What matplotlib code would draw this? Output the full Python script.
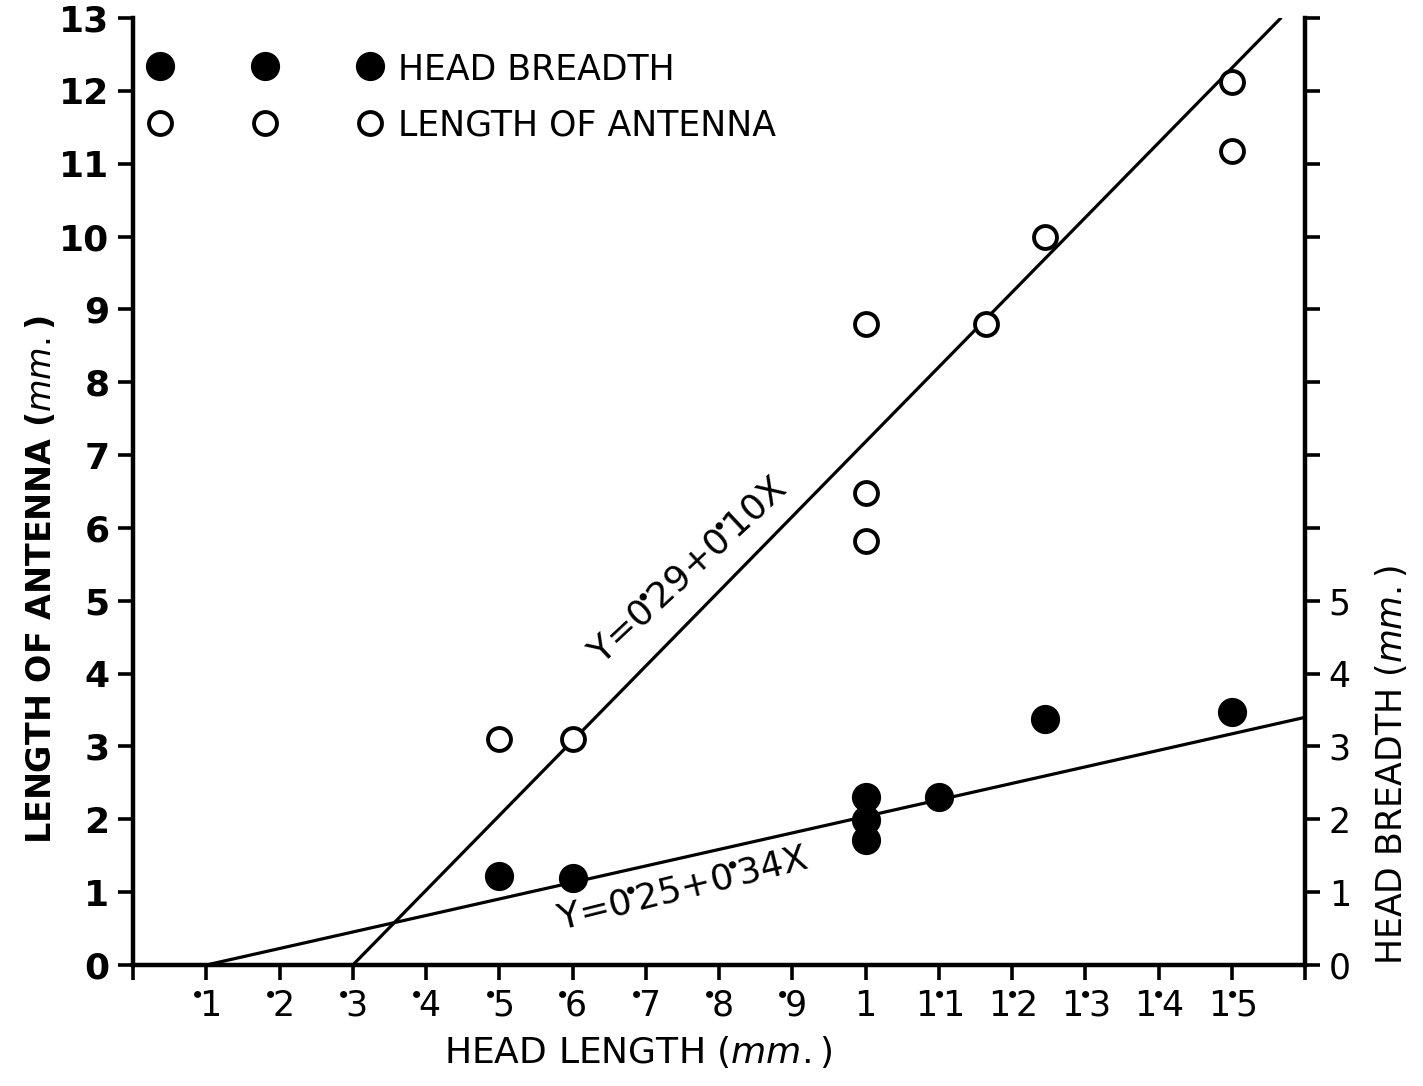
import numpy as np
import matplotlib
matplotlib.use('Agg')
import matplotlib.pyplot as plt

# Head length (mm) vs antenna length / head breadth (mm)
antenna_x = [0.5, 0.6, 1.0, 1.0, 1.0, 1.165, 1.245, 1.5, 1.5]
antenna_y = [3.1, 3.1, 8.8, 6.48, 5.82, 8.8, 10.0, 12.12, 11.17]

breadth_x = [0.5, 0.6, 1.0, 1.0, 1.0, 1.1, 1.245, 1.5]
breadth_y = [1.22, 1.19, 2.3, 1.99, 1.72, 2.3, 3.38, 3.48]

# fitted lines as drawn on the graph (end points)
antenna_fit_x = [0.3, 1.567]
antenna_fit_y = [0.0, 13.0]
breadth_fit_x = [0.1, 1.6]
breadth_fit_y = [0.0, 3.4]

D = r'$\!^{\bullet}\!$'  # raised decimal point
x_ticks = [round(0.1 * i, 1) for i in range(17)]
x_labels = [''] + [D + str(i) for i in range(1, 10)] + ['1'] + \
           ['1' + D + str(i) for i in range(1, 6)] + ['']
left_ticks = list(range(14))
right_labels = ['0', '1', '2', '3', '4', '5'] + [''] * 8

plt.rcParams['font.family'] = ['DejaVu Sans']
plt.rcParams['mathtext.default'] = 'regular'

fig = plt.figure(figsize=(14.23, 10.86), dpi=100)
ax = fig.add_axes([0.0935, 0.1114, 0.8236, 0.872])

ax.plot(antenna_fit_x, antenna_fit_y, color='black', lw=2.3, solid_capstyle='round')
ax.plot(breadth_fit_x, breadth_fit_y, color='black', lw=2.3, solid_capstyle='round')

ax.plot(antenna_x, antenna_y, 'o', ms=16.5, mfc='white', mec='black', mew=2.8, zorder=3)
ax.plot(breadth_x, breadth_y, 'o', ms=20, mfc='black', mec='black', zorder=3)

ax.set_xlim(0, 1.6)
ax.set_ylim(0, 13)

for s in ['top', 'right']:
    ax.spines[s].set_visible(False)
for s in ['left', 'bottom']:
    ax.spines[s].set_linewidth(3.2)

ax.set_xticks(x_ticks)
ax.set_xticklabels(x_labels, fontsize=25)
ax.set_yticks(left_ticks)
ax.set_yticklabels([str(v) for v in left_ticks], fontsize=26, fontweight='bold')
ax.tick_params(axis='both', direction='out', length=11, width=2.6, pad=6)

# right axis, same scale, only 0-5 labelled
ax2 = ax.twinx()
ax2.set_ylim(0, 13)
ax2.set_yticks(left_ticks)
ax2.set_yticklabels(right_labels, fontsize=25)
ax2.tick_params(axis='y', direction='out', length=11, width=2.6, pad=6)
for s in ['top', 'left', 'bottom']:
    ax2.spines[s].set_visible(False)
ax2.spines['right'].set_linewidth(3.2)

ax.set_xlabel(r'HEAD LENGTH $(\mathit{mm.})$', fontsize=26)
ax.xaxis.set_label_coords(0.431, -0.073)
ax.set_ylabel(r'LENGTH OF ANTENNA $(\mathit{mm.})$', fontsize=24, fontweight='bold')
ax.yaxis.set_label_coords(-0.064, 0.407)
ax2.set_ylabel(r'HEAD BREADTH $(\mathit{mm.})$', fontsize=25)
ax2.yaxis.set_label_coords(1.058, 0.211)

# equations along the lines
ax.text(0.758, 5.42, 'Y=0' + D + '29+0' + D + '10X', fontsize=26,
        rotation=43, ha='center', va='center', rotation_mode='anchor')
ax.text(0.75, 1.05, 'Y=0' + D + '25+0' + D + '34X', fontsize=26,
        rotation=14, ha='center', va='center', rotation_mode='anchor')

# hand-drawn key in top left corner
key_x = [0.023, 0.113, 0.202]
for kx in key_x:
    ax.plot(kx, 0.949, 'o', ms=20, mfc='black', mec='black',
            transform=ax.transAxes, clip_on=False)
    ax.plot(kx, 0.889, 'o', ms=16.5, mfc='white', mec='black', mew=2.8,
            transform=ax.transAxes, clip_on=False)
ax.text(0.226, 0.945, 'HEAD BREADTH', fontsize=25, transform=ax.transAxes,
        ha='left', va='center')
ax.text(0.226, 0.886, 'LENGTH OF ANTENNA', fontsize=25, transform=ax.transAxes,
        ha='left', va='center')

fig.savefig('out.png', dpi=100)
